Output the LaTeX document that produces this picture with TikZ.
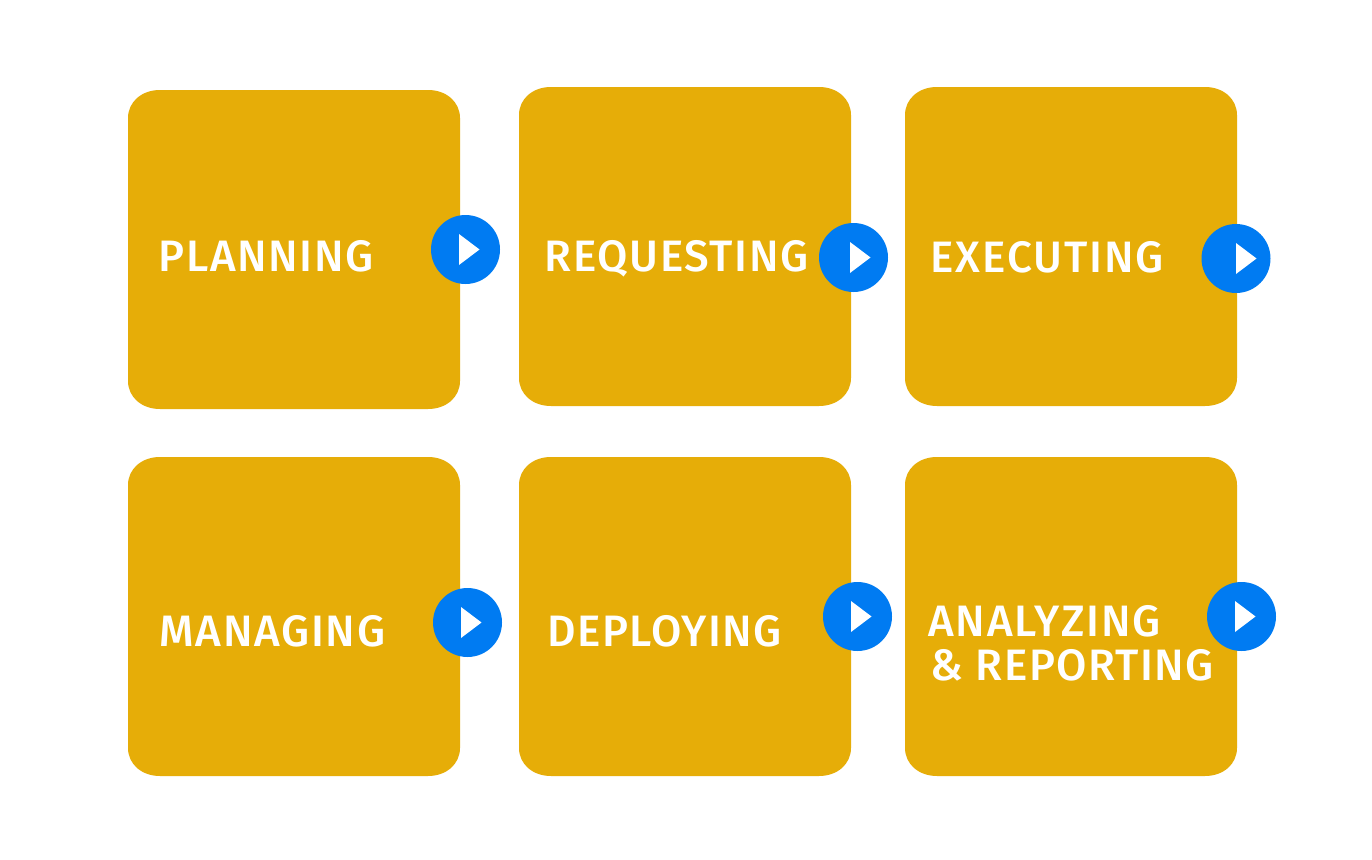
\documentclass[tikz,border=0pt]{standalone}
\usepackage{fontspec}
\setmainfont{Fira Sans Medium}
\definecolor{boxc}{HTML}{E6AD08}
\definecolor{btn}{HTML}{007BF2}
\tikzset{
  card/.style={fill=boxc,draw=none},
  lab/.style={text=white,font=\fontsize{33}{33}\selectfont\addfontfeature{LetterSpace=3.6},anchor=base west,inner sep=0pt,align=left},
  disc/.style={circle,fill=btn,minimum size=51.75pt,inner sep=0pt},
  tri/.style={fill=white,draw=none}
}
\newcommand{\px}[2]{({(#1)*0.75pt},{-(#2)*0.75pt})}
% corner extent 32 x 28 px
\newcommand{\card}[5]{\fill[card]
  \px{#2+32}{#3} -- \px{#4-32}{#3}
  .. controls \px{#4-13.5}{#3} and \px{#4}{#3+12} .. \px{#4}{#3+28}
  -- \px{#4}{#5-28}
  .. controls \px{#4}{#5-12} and \px{#4-13.5}{#5} .. \px{#4-32}{#5}
  -- \px{#2+32}{#5}
  .. controls \px{#2+13.5}{#5} and \px{#2}{#5-12} .. \px{#2}{#5-28}
  -- \px{#2}{#3+28}
  .. controls \px{#2}{#3+12} and \px{#2+13.5}{#3} .. \px{#2+32}{#3}
  -- cycle;
  \node[inner sep=0pt] (#1) at \px{(#2+#4)/2}{(#3+#5)/2} {};}
\newcommand{\play}[4]{\node[disc] (#1) at \px{#2}{#3} {};
  \fill[tri] \px{#4}{#3-15.5} -- \px{#4+20.5}{#3} -- \px{#4}{#3+15.5} -- cycle;}
\begin{document}
\begin{tikzpicture}[x=1pt,y=1pt]
\useasboundingbox[fill=white] (0,0) rectangle (1372*0.75pt,-860*0.75pt);
\card{c1}{128}{90}{460}{409}
\card{c2}{519}{87}{851}{406}
\card{c3}{905}{87}{1237}{406}
\card{c4}{128}{457}{460}{776}
\card{c5}{519}{457}{851}{776}
\card{c6}{905}{457}{1237}{776}
\node[lab] (t1) at \px{158.5}{271} {PLANNING};
\node[lab] (t2) at \px{544.5}{271} {REQUESTING};
\node[lab] (t3) at \px{930.5}{272} {\addfontfeature{LetterSpace=4.2}EXECUTING};
\node[lab] (t4) at \px{159.5}{646} {\addfontfeature{LetterSpace=3.9}MANAGING};
\node[lab] (t5) at \px{547.5}{646} {\addfontfeature{LetterSpace=3.0}DEPLOYING};
\node[lab] (t6) at \px{928}{636} {\addfontfeature{LetterSpace=4.2}ANALYZING};
\node[lab] (t7) at \px{930.5}{680} {\addfontfeature{LetterSpace=3.2}\& REPORTING};
\play{p1}{465.5}{249.5}{459}
\play{p2}{853.5}{257.5}{850}
\play{p3}{1236}{258.5}{1236}
\play{p4}{467.5}{622.5}{461}
\play{p5}{857.5}{616.5}{851}
\play{p6}{1241.5}{616.5}{1235}
\end{tikzpicture}
\end{document}
